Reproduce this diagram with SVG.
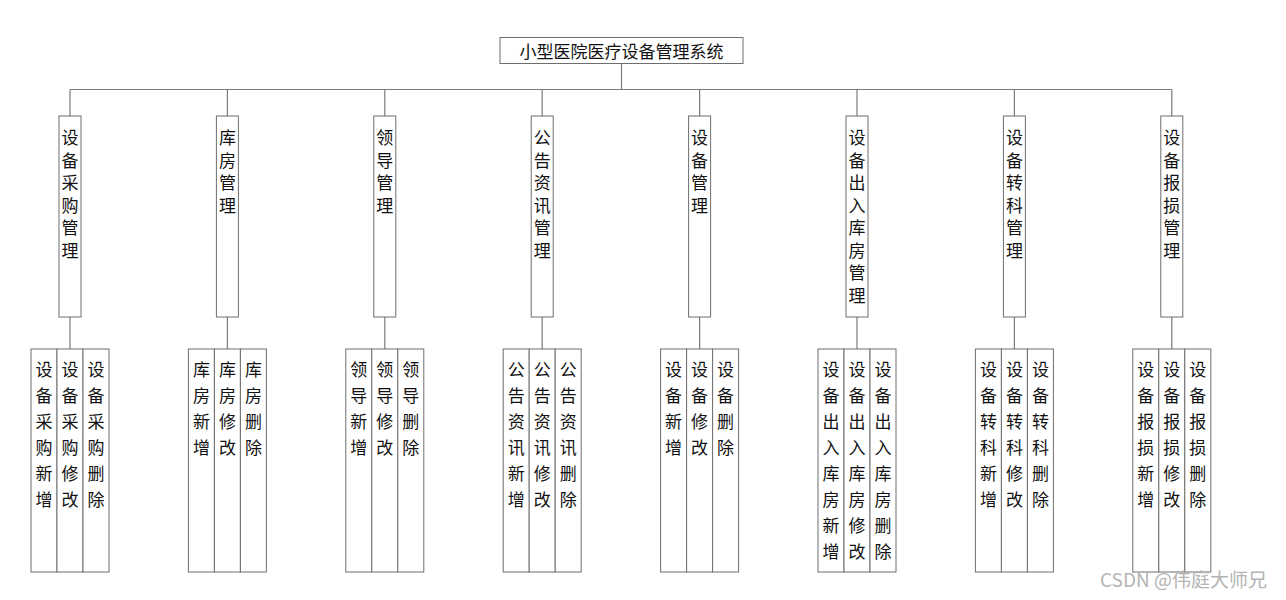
<svg xmlns="http://www.w3.org/2000/svg" width="1286" height="600" viewBox="0 0 1286 600">
<style>
.bx{fill:#fff;stroke:#6e6e6e;stroke-width:1}
.ln{stroke:#7a7a7a;stroke-width:1.2;fill:none}
.t{font-family:"Noto Sans CJK SC","Noto Sans",sans-serif;font-size:17px;fill:#111;text-anchor:middle;dominant-baseline:central}
.wm{font-family:"Noto Sans CJK SC","Noto Sans",sans-serif;font-size:19px;fill:#b4b4b4}
</style>
<rect width="1286" height="600" fill="#fff"/>
<g id="connectors" class="ln">
<line x1="621.5" y1="63" x2="621.5" y2="89.5"/>
<line x1="70" y1="89.5" x2="1171.8" y2="89.5"/>
<line x1="70" y1="89.5" x2="70" y2="116"/><line x1="70" y1="317" x2="70" y2="349"/>
<line x1="227.4" y1="89.5" x2="227.4" y2="116"/><line x1="227.4" y1="317" x2="227.4" y2="349"/>
<line x1="384.8" y1="89.5" x2="384.8" y2="116"/><line x1="384.8" y1="317" x2="384.8" y2="349"/>
<line x1="542.2" y1="89.5" x2="542.2" y2="116"/><line x1="542.2" y1="317" x2="542.2" y2="349"/>
<line x1="699.6" y1="89.5" x2="699.6" y2="116"/><line x1="699.6" y1="317" x2="699.6" y2="349"/>
<line x1="857" y1="89.5" x2="857" y2="116"/><line x1="857" y1="317" x2="857" y2="349"/>
<line x1="1014.4" y1="89.5" x2="1014.4" y2="116"/><line x1="1014.4" y1="317" x2="1014.4" y2="349"/>
<line x1="1171.8" y1="89.5" x2="1171.8" y2="116"/><line x1="1171.8" y1="317" x2="1171.8" y2="349"/>
</g>
<g id="root">
<rect class="bx" x="500" y="37.5" width="243" height="26"/>
<text class="t" x="621.5" y="50">小型医院医疗设备管理系统</text>
</g>

<!-- column 1 -->
<g id="n1" transform="translate(70,-2)">
<rect class="bx" x="-11" y="118" width="22" height="201"/>
<text class="t"><tspan x="0" y="138">设</tspan><tspan x="0" y="160.5">备</tspan><tspan x="0" y="183">采</tspan><tspan x="0" y="205.5">购</tspan><tspan x="0" y="228">管</tspan><tspan x="0" y="250.5">理</tspan></text>
</g>
<g id="n1a" transform="translate(70,-2)">
<rect class="bx" x="-39" y="351" width="26" height="223"/>
<text class="t"><tspan x="-26" y="370">设</tspan><tspan x="-26" y="396">备</tspan><tspan x="-26" y="422">采</tspan><tspan x="-26" y="448">购</tspan><tspan x="-26" y="474">新</tspan><tspan x="-26" y="500">增</tspan></text>
</g>
<g id="n1b" transform="translate(70,-2)">
<rect class="bx" x="-13" y="351" width="26" height="223"/>
<text class="t"><tspan x="0" y="370">设</tspan><tspan x="0" y="396">备</tspan><tspan x="0" y="422">采</tspan><tspan x="0" y="448">购</tspan><tspan x="0" y="474">修</tspan><tspan x="0" y="500">改</tspan></text>
</g>
<g id="n1c" transform="translate(70,-2)">
<rect class="bx" x="13" y="351" width="26" height="223"/>
<text class="t"><tspan x="26" y="370">设</tspan><tspan x="26" y="396">备</tspan><tspan x="26" y="422">采</tspan><tspan x="26" y="448">购</tspan><tspan x="26" y="474">删</tspan><tspan x="26" y="500">除</tspan></text>
</g>

<!-- column 2 -->
<g id="n2" transform="translate(227.4,-2)">
<rect class="bx" x="-11" y="118" width="22" height="201"/>
<text class="t"><tspan x="0" y="138">库</tspan><tspan x="0" y="160.5">房</tspan><tspan x="0" y="183">管</tspan><tspan x="0" y="205.5">理</tspan></text>
</g>
<g id="n2a" transform="translate(227.4,-2)">
<rect class="bx" x="-39" y="351" width="26" height="223"/>
<text class="t"><tspan x="-26" y="370">库</tspan><tspan x="-26" y="396">房</tspan><tspan x="-26" y="422">新</tspan><tspan x="-26" y="448">增</tspan></text>
</g>
<g id="n2b" transform="translate(227.4,-2)">
<rect class="bx" x="-13" y="351" width="26" height="223"/>
<text class="t"><tspan x="0" y="370">库</tspan><tspan x="0" y="396">房</tspan><tspan x="0" y="422">修</tspan><tspan x="0" y="448">改</tspan></text>
</g>
<g id="n2c" transform="translate(227.4,-2)">
<rect class="bx" x="13" y="351" width="26" height="223"/>
<text class="t"><tspan x="26" y="370">库</tspan><tspan x="26" y="396">房</tspan><tspan x="26" y="422">删</tspan><tspan x="26" y="448">除</tspan></text>
</g>

<!-- column 3 -->
<g id="n3" transform="translate(384.8,-2)">
<rect class="bx" x="-11" y="118" width="22" height="201"/>
<text class="t"><tspan x="0" y="138">领</tspan><tspan x="0" y="160.5">导</tspan><tspan x="0" y="183">管</tspan><tspan x="0" y="205.5">理</tspan></text>
</g>
<g id="n3a" transform="translate(384.8,-2)">
<rect class="bx" x="-39" y="351" width="26" height="223"/>
<text class="t"><tspan x="-26" y="370">领</tspan><tspan x="-26" y="396">导</tspan><tspan x="-26" y="422">新</tspan><tspan x="-26" y="448">增</tspan></text>
</g>
<g id="n3b" transform="translate(384.8,-2)">
<rect class="bx" x="-13" y="351" width="26" height="223"/>
<text class="t"><tspan x="0" y="370">领</tspan><tspan x="0" y="396">导</tspan><tspan x="0" y="422">修</tspan><tspan x="0" y="448">改</tspan></text>
</g>
<g id="n3c" transform="translate(384.8,-2)">
<rect class="bx" x="13" y="351" width="26" height="223"/>
<text class="t"><tspan x="26" y="370">领</tspan><tspan x="26" y="396">导</tspan><tspan x="26" y="422">删</tspan><tspan x="26" y="448">除</tspan></text>
</g>

<!-- column 4 -->
<g id="n4" transform="translate(542.2,-2)">
<rect class="bx" x="-11" y="118" width="22" height="201"/>
<text class="t"><tspan x="0" y="138">公</tspan><tspan x="0" y="160.5">告</tspan><tspan x="0" y="183">资</tspan><tspan x="0" y="205.5">讯</tspan><tspan x="0" y="228">管</tspan><tspan x="0" y="250.5">理</tspan></text>
</g>
<g id="n4a" transform="translate(542.2,-2)">
<rect class="bx" x="-39" y="351" width="26" height="223"/>
<text class="t"><tspan x="-26" y="370">公</tspan><tspan x="-26" y="396">告</tspan><tspan x="-26" y="422">资</tspan><tspan x="-26" y="448">讯</tspan><tspan x="-26" y="474">新</tspan><tspan x="-26" y="500">增</tspan></text>
</g>
<g id="n4b" transform="translate(542.2,-2)">
<rect class="bx" x="-13" y="351" width="26" height="223"/>
<text class="t"><tspan x="0" y="370">公</tspan><tspan x="0" y="396">告</tspan><tspan x="0" y="422">资</tspan><tspan x="0" y="448">讯</tspan><tspan x="0" y="474">修</tspan><tspan x="0" y="500">改</tspan></text>
</g>
<g id="n4c" transform="translate(542.2,-2)">
<rect class="bx" x="13" y="351" width="26" height="223"/>
<text class="t"><tspan x="26" y="370">公</tspan><tspan x="26" y="396">告</tspan><tspan x="26" y="422">资</tspan><tspan x="26" y="448">讯</tspan><tspan x="26" y="474">删</tspan><tspan x="26" y="500">除</tspan></text>
</g>

<!-- column 5 -->
<g id="n5" transform="translate(699.6,-2)">
<rect class="bx" x="-11" y="118" width="22" height="201"/>
<text class="t"><tspan x="0" y="138">设</tspan><tspan x="0" y="160.5">备</tspan><tspan x="0" y="183">管</tspan><tspan x="0" y="205.5">理</tspan></text>
</g>
<g id="n5a" transform="translate(699.6,-2)">
<rect class="bx" x="-39" y="351" width="26" height="223"/>
<text class="t"><tspan x="-26" y="370">设</tspan><tspan x="-26" y="396">备</tspan><tspan x="-26" y="422">新</tspan><tspan x="-26" y="448">增</tspan></text>
</g>
<g id="n5b" transform="translate(699.6,-2)">
<rect class="bx" x="-13" y="351" width="26" height="223"/>
<text class="t"><tspan x="0" y="370">设</tspan><tspan x="0" y="396">备</tspan><tspan x="0" y="422">修</tspan><tspan x="0" y="448">改</tspan></text>
</g>
<g id="n5c" transform="translate(699.6,-2)">
<rect class="bx" x="13" y="351" width="26" height="223"/>
<text class="t"><tspan x="26" y="370">设</tspan><tspan x="26" y="396">备</tspan><tspan x="26" y="422">删</tspan><tspan x="26" y="448">除</tspan></text>
</g>

<!-- column 6 -->
<g id="n6" transform="translate(857,-2)">
<rect class="bx" x="-11" y="118" width="22" height="201"/>
<text class="t"><tspan x="0" y="138">设</tspan><tspan x="0" y="160.5">备</tspan><tspan x="0" y="183">出</tspan><tspan x="0" y="205.5">入</tspan><tspan x="0" y="228">库</tspan><tspan x="0" y="250.5">房</tspan><tspan x="0" y="273">管</tspan><tspan x="0" y="295.5">理</tspan></text>
</g>
<g id="n6a" transform="translate(857,-2)">
<rect class="bx" x="-39" y="351" width="26" height="223"/>
<text class="t"><tspan x="-26" y="370">设</tspan><tspan x="-26" y="396">备</tspan><tspan x="-26" y="422">出</tspan><tspan x="-26" y="448">入</tspan><tspan x="-26" y="474">库</tspan><tspan x="-26" y="500">房</tspan><tspan x="-26" y="526">新</tspan><tspan x="-26" y="552">增</tspan></text>
</g>
<g id="n6b" transform="translate(857,-2)">
<rect class="bx" x="-13" y="351" width="26" height="223"/>
<text class="t"><tspan x="0" y="370">设</tspan><tspan x="0" y="396">备</tspan><tspan x="0" y="422">出</tspan><tspan x="0" y="448">入</tspan><tspan x="0" y="474">库</tspan><tspan x="0" y="500">房</tspan><tspan x="0" y="526">修</tspan><tspan x="0" y="552">改</tspan></text>
</g>
<g id="n6c" transform="translate(857,-2)">
<rect class="bx" x="13" y="351" width="26" height="223"/>
<text class="t"><tspan x="26" y="370">设</tspan><tspan x="26" y="396">备</tspan><tspan x="26" y="422">出</tspan><tspan x="26" y="448">入</tspan><tspan x="26" y="474">库</tspan><tspan x="26" y="500">房</tspan><tspan x="26" y="526">删</tspan><tspan x="26" y="552">除</tspan></text>
</g>

<!-- column 7 -->
<g id="n7" transform="translate(1014.4,-2)">
<rect class="bx" x="-11" y="118" width="22" height="201"/>
<text class="t"><tspan x="0" y="138">设</tspan><tspan x="0" y="160.5">备</tspan><tspan x="0" y="183">转</tspan><tspan x="0" y="205.5">科</tspan><tspan x="0" y="228">管</tspan><tspan x="0" y="250.5">理</tspan></text>
</g>
<g id="n7a" transform="translate(1014.4,-2)">
<rect class="bx" x="-39" y="351" width="26" height="223"/>
<text class="t"><tspan x="-26" y="370">设</tspan><tspan x="-26" y="396">备</tspan><tspan x="-26" y="422">转</tspan><tspan x="-26" y="448">科</tspan><tspan x="-26" y="474">新</tspan><tspan x="-26" y="500">增</tspan></text>
</g>
<g id="n7b" transform="translate(1014.4,-2)">
<rect class="bx" x="-13" y="351" width="26" height="223"/>
<text class="t"><tspan x="0" y="370">设</tspan><tspan x="0" y="396">备</tspan><tspan x="0" y="422">转</tspan><tspan x="0" y="448">科</tspan><tspan x="0" y="474">修</tspan><tspan x="0" y="500">改</tspan></text>
</g>
<g id="n7c" transform="translate(1014.4,-2)">
<rect class="bx" x="13" y="351" width="26" height="223"/>
<text class="t"><tspan x="26" y="370">设</tspan><tspan x="26" y="396">备</tspan><tspan x="26" y="422">转</tspan><tspan x="26" y="448">科</tspan><tspan x="26" y="474">删</tspan><tspan x="26" y="500">除</tspan></text>
</g>

<!-- column 8 -->
<g id="n8" transform="translate(1171.8,-2)">
<rect class="bx" x="-11" y="118" width="22" height="201"/>
<text class="t"><tspan x="0" y="138">设</tspan><tspan x="0" y="160.5">备</tspan><tspan x="0" y="183">报</tspan><tspan x="0" y="205.5">损</tspan><tspan x="0" y="228">管</tspan><tspan x="0" y="250.5">理</tspan></text>
</g>
<g id="n8a" transform="translate(1171.8,-2)">
<rect class="bx" x="-39" y="351" width="26" height="223"/>
<text class="t"><tspan x="-26" y="370">设</tspan><tspan x="-26" y="396">备</tspan><tspan x="-26" y="422">报</tspan><tspan x="-26" y="448">损</tspan><tspan x="-26" y="474">新</tspan><tspan x="-26" y="500">增</tspan></text>
</g>
<g id="n8b" transform="translate(1171.8,-2)">
<rect class="bx" x="-13" y="351" width="26" height="223"/>
<text class="t"><tspan x="0" y="370">设</tspan><tspan x="0" y="396">备</tspan><tspan x="0" y="422">报</tspan><tspan x="0" y="448">损</tspan><tspan x="0" y="474">修</tspan><tspan x="0" y="500">改</tspan></text>
</g>
<g id="n8c" transform="translate(1171.8,-2)">
<rect class="bx" x="13" y="351" width="26" height="223"/>
<text class="t"><tspan x="26" y="370">设</tspan><tspan x="26" y="396">备</tspan><tspan x="26" y="422">报</tspan><tspan x="26" y="448">损</tspan><tspan x="26" y="474">删</tspan><tspan x="26" y="500">除</tspan></text>
</g>

<text class="wm" x="1100" y="587">CSDN @伟庭大师兄</text>
</svg>
